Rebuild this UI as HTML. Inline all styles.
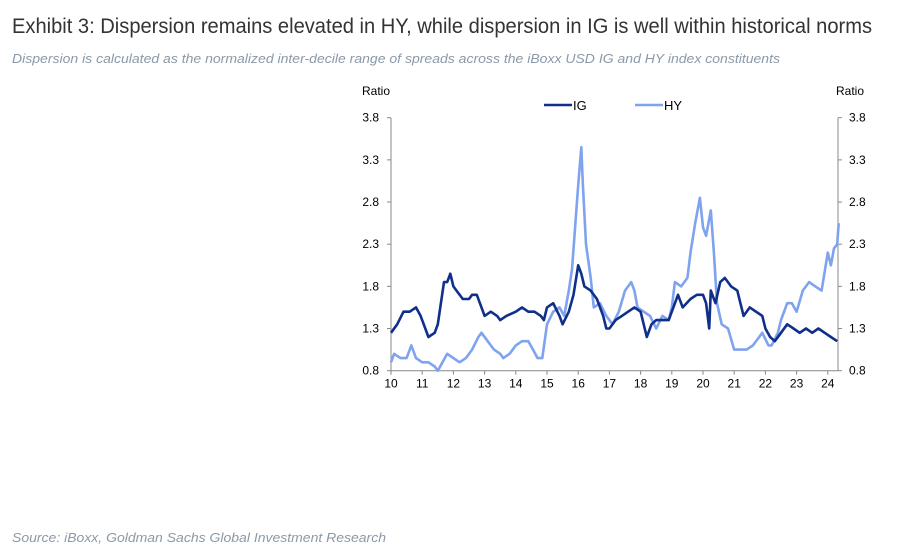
<!DOCTYPE html>
<html><head><meta charset="utf-8"><style>
body{margin:0;background:#fff;}
svg{display:block;font-family:"Liberation Sans",Arial,sans-serif;}
</style></head><body>
<svg id="chart" width="913" height="550" viewBox="0 0 913 550">
<text x="12" y="33" font-size="21" fill="#333" textLength="860" lengthAdjust="spacingAndGlyphs">Exhibit 3: Dispersion remains elevated in HY, while dispersion in IG is well within historical norms</text>
<text x="12" y="63" font-size="13" font-style="italic" fill="#8a99a8" textLength="768" lengthAdjust="spacingAndGlyphs">Dispersion is calculated as the normalized inter-decile range of spreads across the iBoxx USD IG and HY index constituents</text>
<text x="12" y="542" font-size="13" font-style="italic" fill="#8a99a8" textLength="374" lengthAdjust="spacingAndGlyphs">Source: iBoxx, Goldman Sachs Global Investment Research</text>
<text x="362" y="95" font-size="12" fill="#000">Ratio</text>
<text x="836" y="95" font-size="12" fill="#000">Ratio</text>
<g>
<line x1="544" y1="105" x2="572" y2="105" stroke="#0f2f8a" stroke-width="2.5"/>
<text x="573" y="110" font-size="13">IG</text>
<line x1="635" y1="105" x2="663" y2="105" stroke="#7fa3ee" stroke-width="2.5"/>
<text x="664" y="110" font-size="13">HY</text>
</g>
<g id="axes"></g>
<g id="series"></g>
</svg>
<script>
const yTicks=[0.8,1.3,1.8,2.3,2.8,3.3,3.8];
const xTicks=[10,11,12,13,14,15,16,17,18,19,20,21,22,23,24];
const igX=[10.0,10.2,10.4,10.6,10.8,10.95,11.1,11.2,11.4,11.5,11.6,11.7,11.8,11.9,12.0,12.1,12.3,12.5,12.6,12.75,12.9,13.0,13.2,13.4,13.5,13.7,14.0,14.2,14.4,14.6,14.8,14.9,15.0,15.2,15.4,15.5,15.7,15.85,16.0,16.1,16.2,16.4,16.6,16.8,16.9,17.0,17.2,17.4,17.6,17.8,18.0,18.1,18.2,18.35,18.5,18.7,18.9,19.0,19.2,19.35,19.6,19.8,20.0,20.1,20.2,20.25,20.4,20.55,20.7,20.9,21.1,21.2,21.3,21.5,21.7,21.9,22.0,22.15,22.3,22.5,22.7,22.9,23.1,23.3,23.5,23.7,23.9,24.1,24.3];
const igY=[1.25,1.35,1.5,1.5,1.55,1.45,1.3,1.2,1.25,1.35,1.6,1.85,1.85,1.95,1.8,1.75,1.65,1.65,1.7,1.7,1.55,1.45,1.5,1.45,1.4,1.45,1.5,1.55,1.5,1.5,1.45,1.4,1.55,1.6,1.45,1.35,1.5,1.7,2.05,1.95,1.8,1.75,1.65,1.45,1.3,1.3,1.4,1.45,1.5,1.55,1.5,1.35,1.2,1.35,1.4,1.4,1.4,1.5,1.7,1.55,1.65,1.7,1.7,1.6,1.3,1.75,1.6,1.85,1.9,1.8,1.75,1.6,1.45,1.55,1.5,1.45,1.3,1.2,1.15,1.25,1.35,1.3,1.25,1.3,1.25,1.3,1.25,1.2,1.15];
const hyX=[10.0,10.1,10.3,10.5,10.65,10.8,11.0,11.2,11.4,11.5,11.65,11.8,12.0,12.2,12.4,12.6,12.8,12.9,13.1,13.3,13.5,13.6,13.8,14.0,14.2,14.4,14.55,14.7,14.85,15.0,15.2,15.4,15.55,15.7,15.8,15.9,16.0,16.1,16.15,16.25,16.4,16.5,16.7,16.9,17.1,17.3,17.5,17.7,17.8,17.9,18.1,18.3,18.5,18.7,18.9,19.0,19.1,19.3,19.5,19.6,19.75,19.9,20.0,20.1,20.25,20.35,20.45,20.6,20.8,21.0,21.2,21.4,21.6,21.8,21.9,22.1,22.2,22.4,22.5,22.7,22.85,23.0,23.2,23.4,23.6,23.8,24.0,24.1,24.2,24.3,24.35];
const hyY=[0.9,1.0,0.95,0.95,1.1,0.95,0.9,0.9,0.85,0.8,0.9,1.0,0.95,0.9,0.95,1.05,1.2,1.25,1.15,1.05,1.0,0.95,1.0,1.1,1.15,1.15,1.05,0.95,0.95,1.35,1.5,1.55,1.45,1.75,2.0,2.5,3.0,3.45,3.0,2.3,1.9,1.55,1.6,1.45,1.35,1.5,1.75,1.85,1.75,1.55,1.5,1.45,1.3,1.45,1.4,1.55,1.85,1.8,1.9,2.2,2.55,2.85,2.5,2.4,2.7,2.2,1.6,1.35,1.3,1.05,1.05,1.05,1.1,1.2,1.25,1.1,1.1,1.25,1.4,1.6,1.6,1.5,1.75,1.85,1.8,1.75,2.2,2.05,2.25,2.3,2.55];
const L=391,R=838,T=117.7,B=370.7;
const xs=v=>L+(v-10)*31.2;
const ys=v=>B-(v-0.8)/3.0*(B-T);
const NS='http://www.w3.org/2000/svg';
const ax=document.getElementById('axes'),se=document.getElementById('series');
function mk(tag,at,parent){const e=document.createElementNS(NS,tag);for(const k in at)e.setAttribute(k,at[k]);parent.appendChild(e);return e;}
let e;
e=mk('line',{x1:L,y1:T,x2:L,y2:B,stroke:'#888'},ax);


e=mk('line',{x1:R,y1:T,x2:R,y2:B,stroke:'#888'},ax);


e=mk('line',{x1:L,y1:B,x2:R,y2:B,stroke:'#888'},ax);


yTicks.forEach(v=>{const y=ys(v);
mk('line',{x1:L-4,y1:y,x2:L,y2:y,stroke:'#888'},ax);
mk('line',{x1:R,y1:y,x2:R+4,y2:y,stroke:'#888'},ax);
let t=mk('text',{x:L-12,y:y+4,'font-size':12,'text-anchor':'end'},ax);t.textContent=v.toFixed(1);


t=mk('text',{x:R+11,y:y+4,'font-size':12},ax);t.textContent=v.toFixed(1);

});
xTicks.forEach(v=>{const x=xs(v);
mk('line',{x1:x,y1:B,x2:x,y2:B+4,stroke:'#888'},ax);
let t=mk('text',{x:x,y:B+17,'font-size':12,'text-anchor':'middle'},ax);t.textContent=v;

});
function line(X,Y){return X.map((v,i)=>xs(v).toFixed(1)+','+ys(Y[i]).toFixed(1)).join(' ');}
e=mk('polyline',{points:line(hyX,hyY),fill:'none',stroke:'#7fa3ee','stroke-width':2.6,'stroke-linejoin':'round'},se);


e=mk('polyline',{points:line(igX,igY),fill:'none',stroke:'#0f2f8a','stroke-width':2.6,'stroke-linejoin':'round'},se);


</script>
</body></html>
